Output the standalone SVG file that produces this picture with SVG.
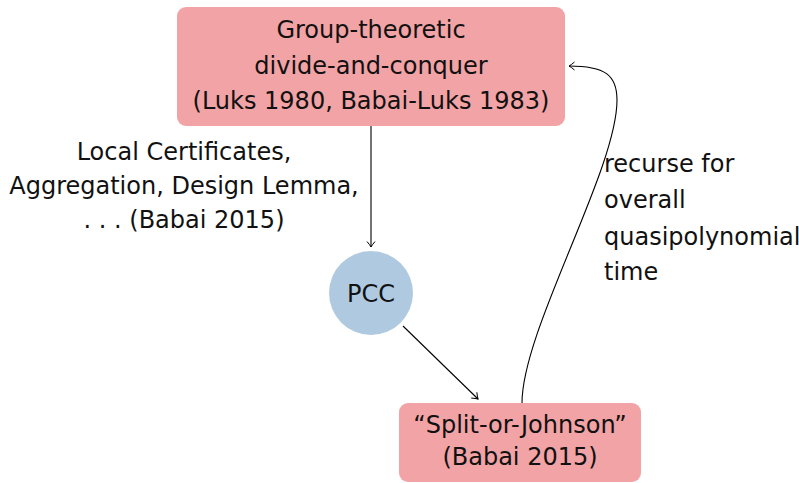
<svg xmlns="http://www.w3.org/2000/svg" width="799" height="483" viewBox="0 0 799 483">
  <style>
    .box { fill: #f2a3a5; }
    .circ { fill: #afcae0; }
    .t { font-family: "DejaVu Sans", "Noto Sans", sans-serif; font-size: 24px; fill: #111; }
    .c { text-anchor: middle; }
    .edge { fill: none; stroke: #000; stroke-width: 1.1; }
  </style>
  <defs>
    <marker id="arr" viewBox="-6 -5 8 10" refX="0.5" refY="0" markerWidth="8" markerHeight="10" markerUnits="userSpaceOnUse" orient="auto">
      <path d="M-5,-4 Q-1.5,-1 0.5,0 Q-1.5,1 -5,4" fill="none" stroke="#000" stroke-width="1"/>
    </marker>
  </defs>
  <rect width="799" height="483" fill="#fff"/>

  <g id="edges">
    <path class="edge" d="M371,126 L371,247" marker-end="url(#arr)"/>
    <path class="edge" d="M403,326 L478,399" marker-end="url(#arr)"/>
    <path class="edge" d="M522,403 C522,330 617,170 617,100 C617,75 605,66 569,66" marker-end="url(#arr)"/>
  </g>

  <g id="n-group">
    <rect class="box" x="177" y="7" width="388" height="119" rx="9"/>
    <text class="t c" x="371" y="38">Group-theoretic</text>
    <text class="t c" x="371" y="74">divide-and-conquer</text>
    <text class="t c" x="371" y="109">(Luks 1980, Babai-Luks 1983)</text>
  </g>

  <g id="n-pcc">
    <circle class="circ" cx="371" cy="293" r="42"/>
    <text class="t c" x="371" y="302">PCC</text>
  </g>

  <g id="n-split">
    <rect class="box" x="399" y="403" width="242" height="79" rx="9"/>
    <text class="t c" x="520" y="433">“Split-or-Johnson”</text>
    <text class="t c" x="520" y="465">(Babai 2015)</text>
  </g>

  <g id="lbl-left">
    <text class="t c" x="184" y="160">Local Certificates,</text>
    <text class="t c" x="184" y="194">Aggregation, Design Lemma,</text>
    <text class="t c" x="184" y="228">. . . (Babai 2015)</text>
  </g>

  <g id="lbl-right">
    <text class="t" x="604" y="172">recurse for</text>
    <text class="t" x="604" y="208">overall</text>
    <text class="t" x="604" y="245">quasipolynomial</text>
    <text class="t" x="604" y="280">time</text>
  </g>
</svg>
